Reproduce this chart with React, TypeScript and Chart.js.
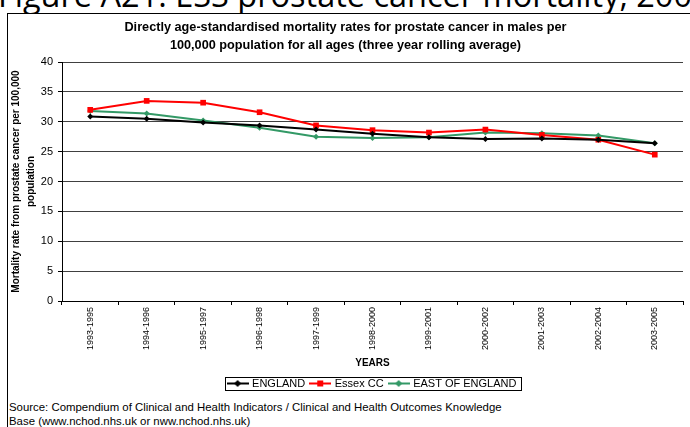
import React, { useEffect, useRef } from "react";
import { Chart, registerables } from "chart.js";

Chart.register(...registerables);

const categories = [
  "1993-1995", "1994-1996", "1995-1997", "1996-1998", "1997-1999", "1998-2000",
  "1999-2001", "2000-2002", "2001-2003", "2002-2004", "2003-2005",
];
const englandValues = [30.9, 30.5, 29.9, 29.4, 28.7, 28.0, 27.4, 27.1, 27.2, 27.0, 26.4];
const essexValues = [32.0, 33.5, 33.2, 31.6, 29.4, 28.6, 28.2, 28.7, 27.8, 27.0, 24.5];
const eastValues = [31.8, 31.4, 30.2, 29.0, 27.5, 27.3, 27.4, 28.2, 28.1, 27.7, 26.4];
const seriesNames = ["ENGLAND", "Essex CC", "EAST OF ENGLAND"];
const titleLines = [
  "Directly age-standardised mortality rates for prostate cancer in males per",
  "100,000 population for all ages (three year rolling average)",
];
const yTitleLines = ["Mortality rate from prostate cancer per 100,000", "population"];
const xTitle = "YEARS";
const heading = "Figure A21: ESS prostate cancer mortality, 2007";
const sourceLines = [
  "Source: Compendium of Clinical and Health Indicators / Clinical and Health Outcomes Knowledge",
  "Base (www.nchod.nhs.uk or nww.nchod.nhs.uk)",
];

const FONT = "'Liberation Sans', Arial, sans-serif";

function legendSample(color: string, marker: "diamond" | "square"): HTMLCanvasElement {
  const c = document.createElement("canvas");
  c.width = 22;
  c.height = 9;
  const ctx = c.getContext("2d")!;
  ctx.strokeStyle = color;
  ctx.lineWidth = 2;
  ctx.beginPath();
  ctx.moveTo(0, 4.5);
  ctx.lineTo(22, 4.5);
  ctx.stroke();
  ctx.fillStyle = color;
  if (marker === "square") {
    ctx.fillRect(8, 1.5, 6, 6);
  } else {
    ctx.beginPath();
    ctx.moveTo(11, 1);
    ctx.lineTo(14.5, 4.5);
    ctx.lineTo(11, 8);
    ctx.lineTo(7.5, 4.5);
    ctx.closePath();
    ctx.fill();
  }
  return c;
}

const legendBorder = {
  id: "legendBorder",
  afterDraw(chart: any) {
    const lg = chart.legend;
    if (!lg || !lg.legendHitBoxes || !lg.legendHitBoxes.length) return;
    const hb = lg.legendHitBoxes;
    const first = hb[0];
    const last = hb[hb.length - 1];
    const left = first.left - 4;
    const right = last.left + last.width + 4;
    const top = first.top - 1;
    const bottom = first.top + first.height + 1;
    const ctx = chart.ctx;
    ctx.save();
    ctx.strokeStyle = "#000";
    ctx.lineWidth = 1;
    ctx.strokeRect(Math.round(left) + 0.5, Math.round(top) + 0.5, Math.round(right - left), Math.round(bottom - top));
    ctx.restore();
  },
};

export default function App() {
  const ref = useRef<HTMLCanvasElement | null>(null);

  useEffect(() => {
    if (!ref.current) return;
    const colors = ["#000000", "#FF0000", "#339966"];
    const samples = [
      legendSample(colors[0], "diamond"),
      legendSample(colors[1], "square"),
      legendSample(colors[2], "diamond"),
    ];
    const chart = new Chart(ref.current, {
      type: "line",
      data: {
        labels: categories,
        datasets: [
          {
            label: seriesNames[0],
            data: englandValues,
            borderColor: colors[0],
            backgroundColor: colors[0],
            borderWidth: 2,
            pointStyle: "rectRot",
            pointRadius: 3,
            pointBorderWidth: 0,
            tension: 0,
          },
          {
            label: seriesNames[1],
            data: essexValues,
            borderColor: colors[1],
            backgroundColor: colors[1],
            borderWidth: 2,
            pointStyle: "rect",
            pointRadius: 4,
            pointBorderWidth: 0,
            tension: 0,
          },
          {
            label: seriesNames[2],
            data: eastValues,
            borderColor: colors[2],
            backgroundColor: colors[2],
            borderWidth: 2,
            pointStyle: "rectRot",
            pointRadius: 3,
            pointBorderWidth: 0,
            tension: 0,
          },
        ],
      },
      options: {
        animation: false,
        responsive: false,
        maintainAspectRatio: false,
        devicePixelRatio: 1,
        layout: { padding: { left: 0, right: 7, top: 0, bottom: 0 } },
        plugins: {
          title: {
            display: true,
            text: titleLines,
            color: "#000",
            font: { family: FONT, size: 12.7, weight: "bold", lineHeight: 1.42 },
            padding: { top: 4, bottom: 8 },
          },
          legend: {
            display: true,
            position: "bottom",
            fullSize: false,
            labels: {
              color: "#000",
              font: { family: FONT, size: 11, lineHeight: 1.2 },
              usePointStyle: true,
              pointStyleWidth: 18,
              padding: 6,
              generateLabels: () =>
                seriesNames.map((n, i) => ({
                  text: n,
                  pointStyle: samples[i],
                  fillStyle: colors[i],
                  strokeStyle: colors[i],
                  lineWidth: 0,
                  hidden: false,
                  datasetIndex: i,
                  fontColor: "#000",
                })),
            },
          },
          tooltip: { enabled: false },
        },
        scales: {
          x: {
            type: "category",
            offset: true,
            afterFit: (s: any) => {
              s.height = 71;
            },
            grid: {
              offset: true,
              drawOnChartArea: false,
              drawTicks: true,
              tickLength: 4,
              color: "#000",
            },
            border: { display: true, color: "#000", width: 1 },
            ticks: {
              minRotation: 90,
              maxRotation: 90,
              autoSkip: false,
              padding: 2,
              color: "#000",
              font: { family: FONT, size: 9 },
            },
            title: {
              display: true,
              text: xTitle,
              color: "#000",
              font: { family: FONT, size: 10, weight: "bold", lineHeight: 1.2 },
              padding: { top: 4, bottom: 3 },
            },
          },
          y: {
            min: 0,
            max: 40,
            afterFit: (s: any) => {
              s.width = 54;
            },
            grid: {
              color: "#404040",
              lineWidth: 1,
              drawTicks: true,
              tickLength: 4,
              tickColor: "#000",
            },
            border: { display: true, color: "#000", width: 1 },
            ticks: {
              stepSize: 5,
              padding: 5,
              color: "#000",
              font: { family: FONT, size: 11 },
            },
            title: {
              display: true,
              text: yTitleLines,
              color: "#000",
              font: { family: FONT, size: 10, weight: "bold", lineHeight: 1.45 },
              padding: { top: 1, bottom: 0 },
            },
          },
        },
      },
      plugins: [legendBorder],
    });
    return () => chart.destroy();
  }, []);

  return (
    <div
      style={{
        position: "absolute",
        left: 0,
        top: 0,
        width: 690,
        height: 427,
        overflow: "hidden",
        background: "#fff",
      }}
    >
      <div
        style={{
          position: "absolute",
          left: -2,
          top: -21,
          whiteSpace: "nowrap",
          fontFamily: "'Open Sans', sans-serif",
          fontSize: 32.5,
          lineHeight: "32px",
          color: "#000",
        }}
      >
        {heading}
      </div>
      <div
        style={{
          position: "absolute",
          left: 7,
          top: 13,
          width: 700,
          height: 430,
          background: "#fff",
          borderLeft: "1px solid #000",
          borderTop: "1px solid #000",
        }}
      />
      <canvas
        ref={ref}
        width={682}
        height={385}
        style={{ position: "absolute", left: 8, top: 14, width: 682, height: 385 }}
      />
      <div
        style={{
          position: "absolute",
          left: 9,
          top: 400,
          fontFamily: FONT,
          fontSize: 11.4,
          lineHeight: "14px",
          color: "#000",
          whiteSpace: "nowrap",
        }}
      >
        <div>{sourceLines[0]}</div>
        <div>{sourceLines[1]}</div>
      </div>
    </div>
  );
}
